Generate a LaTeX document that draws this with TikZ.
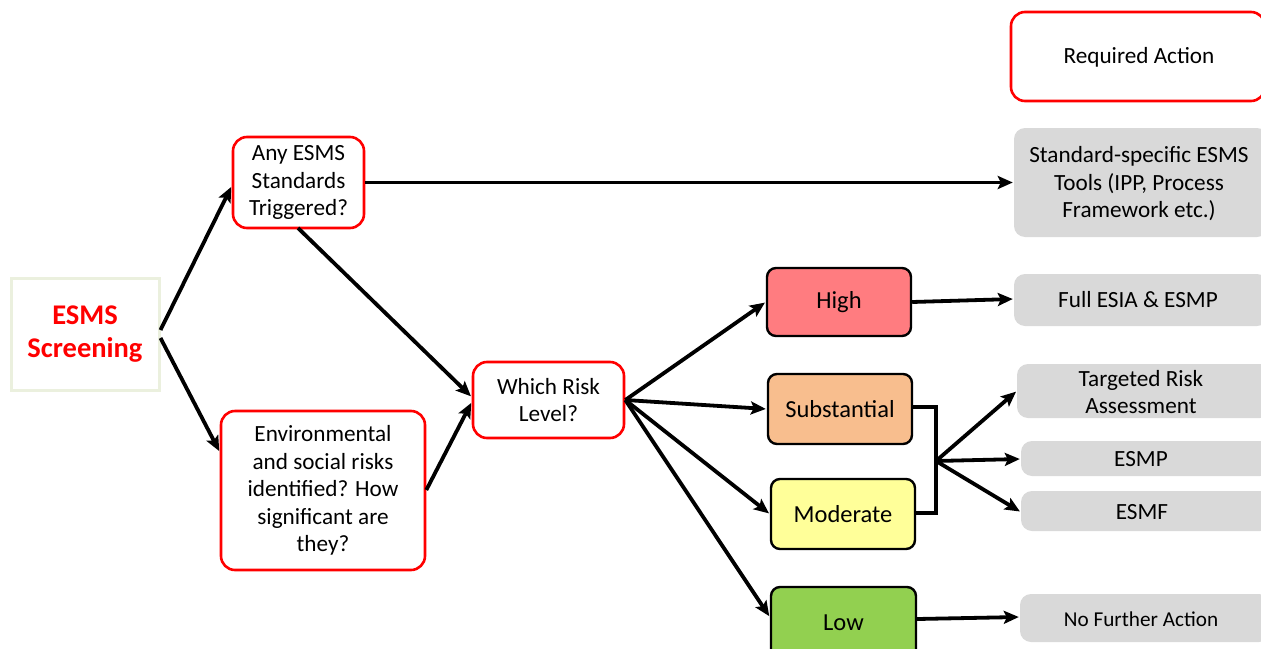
\documentclass[tikz,border=0pt]{standalone}
\usepackage{fontspec}
\setmainfont{Carlito}
\usetikzlibrary{arrows.meta,positioning}
\definecolor{redb}{RGB}{255,0,0}
\definecolor{grayf}{RGB}{217,217,217}
\definecolor{highf}{RGB}{255,124,128}
\definecolor{subf}{RGB}{248,190,142}
\definecolor{modf}{RGB}{255,255,153}
\definecolor{lowf}{RGB}{146,208,80}
\definecolor{beige}{RGB}{235,240,222}
\tikzset{
  txt/.style={font=\fontsize{23.2}{27.5}\selectfont, align=center, inner sep=0pt},
  redbox/.style={txt, draw=redb, line width=2.6pt, rounded corners=14pt, fill=white},
  riskbox/.style={txt, font=\fontsize{24.5}{28}\selectfont, draw=black, line width=2.4pt, rounded corners=9pt},
  graybox/.style={txt, fill=grayf, rounded corners=11pt},
  conn/.style={line width=3.8pt, -{Stealth[length=15pt,width=13pt,inset=3pt]}, shorten >=1pt},
  plain/.style={line width=3.8pt}
}
\begin{document}
\begin{tikzpicture}[x=1pt,y=-1pt]
\useasboundingbox (0,0) rectangle (1261,648);
% nodes
\node[txt, draw=beige, line width=3pt, minimum width=148pt, minimum height=112pt,
  text=redb, font=\fontsize{28.5}{33}\selectfont\bfseries] (scr) at (85,334) {ESMS\\Screening};
\node[redbox, minimum width=131pt, minimum height=91pt] (any) at (298.5,182.5) {Any ESMS\\Standards\\Triggered?};
\node[redbox, minimum width=204pt, minimum height=159pt] (env) at (323,490.5) {Environmental\\and social risks\\identified? How\\significant are\\they?};
\node[redbox, minimum width=151pt, minimum height=76pt] (which) at (548.5,400) {Which Risk\\Level?};
\node[riskbox, fill=highf, minimum width=144pt, minimum height=68pt] (high) at (839,302) {High};
\node[riskbox, fill=subf, minimum width=144pt, minimum height=70pt] (sub) at (840,409) {Substantial};
\node[riskbox, fill=modf, minimum width=144pt, minimum height=70pt] (mod) at (843,514) {Moderate};
\node[riskbox, fill=lowf, minimum width=145pt, minimum height=72pt] (low) at (843.5,623) {Low};
\node[redbox, minimum width=254pt, minimum height=89pt] (req) at (1138,56.5) {};
\node[txt] at (1139,57) {Required Action};
\node[graybox, minimum width=254pt, minimum height=109pt] (std) at (1141,182.5) {};
\node[txt] at (1139,184) {Standard-specific ESMS\\Tools (IPP, Process\\Framework etc.)};
\node[graybox, minimum width=254pt, minimum height=52pt] (full) at (1141,300) {};
\node[txt] at (1138,300) {Full ESIA \& ESMP};
\node[graybox, minimum width=254pt, minimum height=54pt] (trg) at (1144,391) {};
\node[txt] at (1141,392) {Targeted Risk\\Assessment};
\node[graybox, minimum width=250pt, minimum height=35pt] (esmp) at (1146,458.5) {};
\node[txt] at (1141,459) {ESMP};
\node[graybox, minimum width=250pt, minimum height=40pt] (esmf) at (1146,511) {};
\node[txt] at (1142,512) {ESMF};
\node[graybox, minimum width=250pt, minimum height=48pt] (nfa) at (1145,618) {};
\node[txt, font=\fontsize{21.2}{25}\selectfont] at (1141,619) {No Further Action};
% connectors
\draw[conn] (scr.east |- 0,330) -- (any.west |- 0,186);
\draw[conn] (scr.east |- 0,338) -- (env.west |- 0,452);
\draw[conn] (any.east) -- (std.west);
\draw[conn] (298,228) -- (which.west |- 0,397);
\draw[conn] (env.east |- 0,490) -- (which.west |- 0,402);
\draw[conn] (which.east) -- (high.west);
\draw[conn] (which.east) -- (sub.west);
\draw[conn] (which.east) -- (mod.west);
\draw[conn] (which.east) -- (low.west |- 0,617);
\draw[conn] (high.east) -- (full.west |- 0,299);
\draw[conn] (low.east |- 0,619) -- (nfa.west |- 0,617);
\coordinate (br) at (936,461);
\draw[plain] (sub.east |- 0,407) -- (936,407) -- (936,513) -- (mod.east |- 0,513);
\draw[conn] (br) -- (trg.west |- 0,391);
\draw[conn] (br) -- (esmp.west |- 0,459);
\draw[conn] (br) -- (esmf.west |- 0,512);
\end{tikzpicture}
\end{document}
